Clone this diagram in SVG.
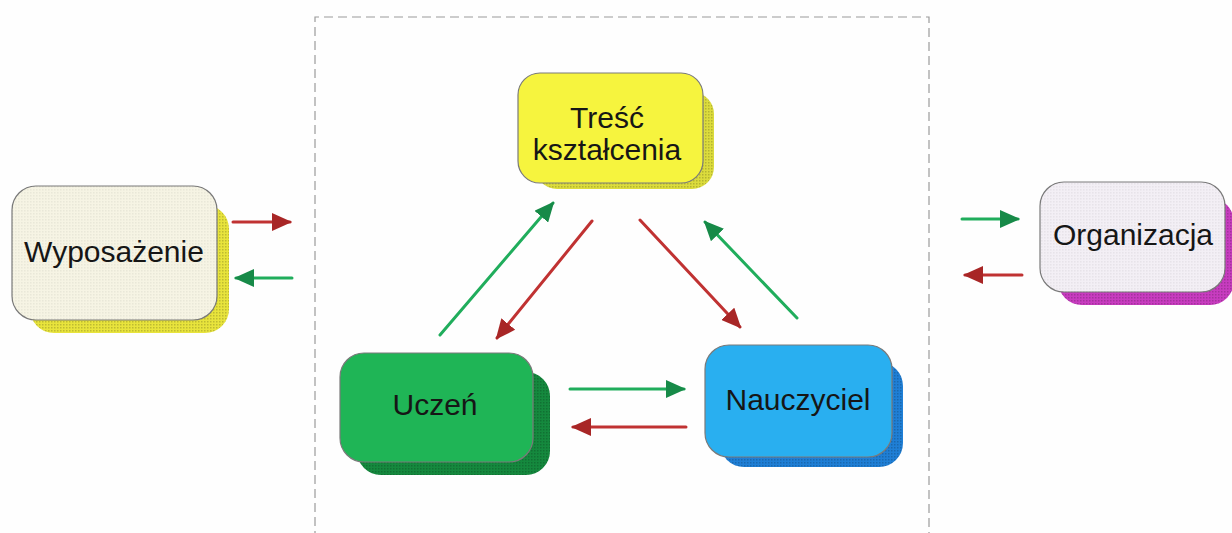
<svg xmlns="http://www.w3.org/2000/svg" width="1232" height="533" viewBox="0 0 1232 533">
<style>
.lbl{font-family:"Liberation Sans",Arial,sans-serif;font-size:30px;fill:#161616;text-anchor:middle}
.main{stroke:#7a7a7a;stroke-width:1.2}
.g{stroke:#20ad5c;stroke-width:3;fill:none;stroke-linecap:round}
.r{stroke:#c03232;stroke-width:3;fill:none;stroke-linecap:round}
</style>
<defs>
<pattern id="dots" width="3" height="3" patternUnits="userSpaceOnUse"><rect x="0" y="0" width="1.5" height="1.5" fill="#000" fill-opacity="0.18"/></pattern>
<pattern id="ldots" width="3" height="3" patternUnits="userSpaceOnUse"><rect x="0" y="0" width="1.5" height="1.5" fill="#000" fill-opacity="0.05"/></pattern>
<marker id="ag" viewBox="0 0 20 18" refX="18" refY="9" markerWidth="20" markerHeight="18" markerUnits="userSpaceOnUse" orient="auto"><path d="M0,0 L20,9 L0,18 z" fill="#178a48"/></marker>
<marker id="ar" viewBox="0 0 20 18" refX="18" refY="9" markerWidth="20" markerHeight="18" markerUnits="userSpaceOnUse" orient="auto"><path d="M0,0 L20,9 L0,18 z" fill="#a82626"/></marker>
</defs>
<rect width="1232" height="533" fill="#fefefe"/>
<path d="M315,540 V17 H929 V540" fill="none" stroke="#9a9a9a" stroke-width="1.2" stroke-dasharray="9,5"/>

<g id="wyposazenie">
<rect x="30" y="205" width="199" height="128" rx="24" fill="#e8e43c"/>
<rect x="30" y="205" width="199" height="128" rx="24" fill="url(#dots)"/>
<rect x="12" y="186" width="205" height="134" rx="24" fill="#f6f4e4" class="main"/>
<rect x="12" y="186" width="205" height="134" rx="24" fill="url(#ldots)"/>
<text x="114" y="262" class="lbl">Wyposażenie</text>
</g>

<g id="tresc">
<rect x="535" y="92" width="179" height="97" rx="22" fill="#dcdc3c"/>
<rect x="535" y="92" width="179" height="97" rx="22" fill="url(#dots)"/>
<rect x="518" y="73" width="185" height="110" rx="22" fill="#f6f43e" class="main"/>
<text x="607" y="128" class="lbl">Treść</text>
<text x="607" y="160" class="lbl">kształcenia</text>
</g>

<g id="uczen">
<rect x="357" y="372" width="193" height="103" rx="24" fill="#15893e"/>
<rect x="357" y="372" width="193" height="103" rx="24" fill="url(#dots)"/>
<rect x="340" y="353" width="193" height="109" rx="24" fill="#1fb556" class="main"/>
<text x="435" y="415" class="lbl">Uczeń</text>
</g>

<g id="nauczyciel">
<rect x="720" y="362" width="183" height="105" rx="24" fill="#1f7fd6"/>
<rect x="720" y="362" width="183" height="105" rx="24" fill="url(#dots)"/>
<rect x="705" y="345" width="187" height="112" rx="24" fill="#29aff0" class="main"/>
<text x="798" y="410" class="lbl">Nauczyciel</text>
</g>

<g id="organizacja">
<rect x="1058" y="198" width="176" height="107" rx="24" fill="#c83cc0"/>
<rect x="1058" y="198" width="176" height="107" rx="24" fill="url(#dots)"/>
<rect x="1040" y="182" width="185" height="110" rx="24" fill="#f3eff5" class="main"/>
<rect x="1040" y="182" width="185" height="110" rx="24" fill="url(#ldots)"/>
<text x="1133" y="245" class="lbl">Organizacja</text>
</g>

<g id="connectors">
<line x1="233" y1="222" x2="290" y2="222" class="r" marker-end="url(#ar)"/>
<line x1="292" y1="278" x2="236" y2="278" class="g" marker-end="url(#ag)"/>
<line x1="962" y1="219" x2="1018" y2="219" class="g" marker-end="url(#ag)"/>
<line x1="1022" y1="275" x2="965" y2="275" class="r" marker-end="url(#ar)"/>
<line x1="570" y1="389" x2="684" y2="389" class="g" marker-end="url(#ag)"/>
<line x1="686" y1="427" x2="573" y2="427" class="r" marker-end="url(#ar)"/>
<line x1="440" y1="335" x2="553" y2="203" class="g" marker-end="url(#ag)"/>
<line x1="592" y1="221" x2="497" y2="338" class="r" marker-end="url(#ar)"/>
<line x1="640" y1="220" x2="740" y2="327" class="r" marker-end="url(#ar)"/>
<line x1="797" y1="318" x2="705" y2="222" class="g" marker-end="url(#ag)"/>
</g>
</svg>
